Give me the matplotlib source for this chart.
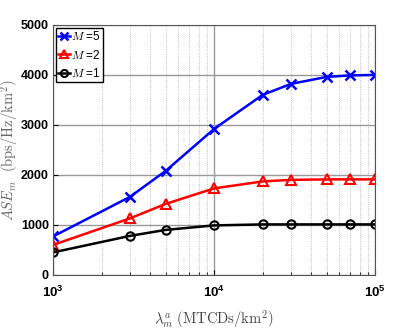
import numpy as np
import matplotlib.pyplot as plt
from matplotlib.ticker import LogLocator, NullFormatter

plt.rcParams['mathtext.fontset'] = 'cm'
plt.rcParams['font.family'] = ['Liberation Sans', 'DejaVu Sans']

lam = [1e3, 3e3, 5e3, 1e4, 2e4, 3e4, 5e4, 7e4, 1e5]
ase_m5 = [770, 1560, 2080, 2920, 3600, 3820, 3960, 3990, 4000]
ase_m2 = [600, 1130, 1420, 1730, 1870, 1900, 1910, 1910, 1910]
ase_m1 = [450, 780, 900, 990, 1010, 1010, 1010, 1010, 1010]

fig = plt.figure(figsize=(4.15, 3.32), dpi=100)
ax = fig.add_axes([0.128, 0.172, 0.776, 0.753])

ax.plot(lam, ase_m5, '-x', color='blue', lw=1.8, ms=7, mew=1.8, label='$M$ =5')
ax.plot(lam, ase_m2, '-^', color='red', lw=1.8, ms=7, mew=1.5, mfc='none', label='$M$ =2')
ax.plot(lam, ase_m1, '-o', color='black', lw=1.8, ms=6, mew=1.5, mfc='none', label='$M$ =1')

ax.set_xscale('log')
ax.set_xlim(1e3, 1e5)
ax.set_ylim(0, 5000)
ax.set_yticks([0, 1000, 2000, 3000, 4000, 5000])
ax.xaxis.set_minor_locator(LogLocator(base=10, subs=np.arange(2, 10)))
ax.xaxis.set_minor_formatter(NullFormatter())

ax.grid(True, which='major', color='#999999', lw=1.0, ls='-')
ax.grid(True, which='minor', axis='x', color='#aaaaaa', lw=0.6, ls=':')
ax.set_axisbelow(True)

for sp in ax.spines.values():
    sp.set_color('#555555')
ax.tick_params(which='both', direction='in', top=False, right=False, labelsize=9)
ax.tick_params(axis='x', pad=7, labelsize=9.5)
ax.tick_params(axis='y', pad=3)
for lab in ax.get_xticklabels() + ax.get_yticklabels():
    lab.set_fontweight('bold')

ax.set_xlabel(r'$\lambda_m^a\ \mathrm{(MTCDs/km^2)}$', fontsize=10.5, color='#444444')
ax.set_ylabel(r'$ASE_m\ \ \mathrm{(bps/Hz/km^2)}$', fontsize=10.5, color='#666666')
ax.yaxis.set_label_coords(-0.1, 0.5)
ax.xaxis.set_label_coords(0.5, -0.135)

leg = ax.legend(loc='upper left', fontsize=8.5, handlelength=1.0, handletextpad=0.1,
                borderpad=0.2, labelspacing=0.45, fancybox=False, framealpha=1,
                borderaxespad=0.25, markerscale=0.85)
leg.get_frame().set_edgecolor('black')

fig.savefig('out.png', dpi=100)
